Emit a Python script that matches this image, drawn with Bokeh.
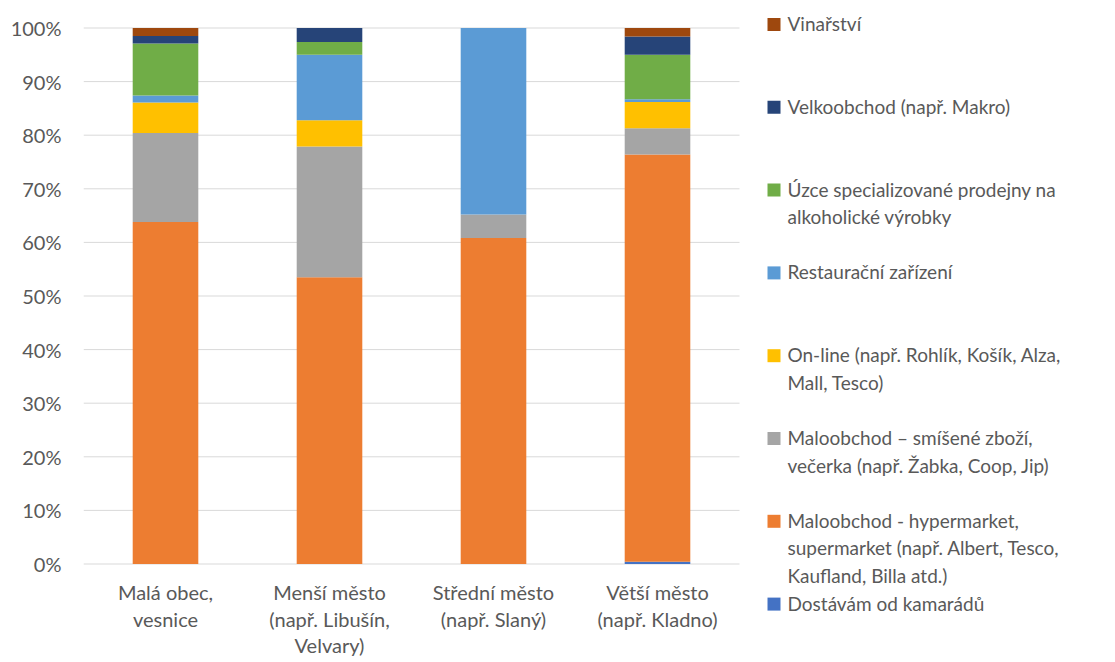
from bokeh.plotting import figure
from bokeh.models import Range1d, ColumnDataSource, NumeralTickFormatter, FixedTicker
from bokeh.core.properties import value
from bokeh.embed import file_html
from bokeh.resources import INLINE

FONT = "Lato"
TEXT_COLOR = "#595959"
GRID_COLOR = "#D9D9D9"

categories = ["Malá obec, vesnice", "Menší město (např. Libušín, Velvary)",
              "Střední město (např. Slaný)", "Větší město (např. Kladno)"]
category_lines = [["Malá obec,", "vesnice"],
                  ["Menší město", "(např. Libušín,", "Velvary)"],
                  ["Střední město", "(např. Slaný)"],
                  ["Větší město", "(např. Kladno)"]]

series_names = ["Dostávám od kamarádů",
                "Maloobchod - hypermarket, supermarket (např. Albert, Tesco, Kaufland, Billa atd.)",
                "Maloobchod – smíšené zboží, večerka (např. Žabka, Coop, Jip)",
                "On-line (např. Rohlík, Košík, Alza, Mall, Tesco)",
                "Restaurační zařízení",
                "Úzce specializované prodejny na alkoholické výrobky",
                "Velkoobchod (např. Makro)",
                "Vinařství"]
legend_lines = [["Dostávám od kamarádů"],
                ["Maloobchod - hypermarket,", "supermarket (např. Albert, Tesco,", "Kaufland, Billa atd.)"],
                ["Maloobchod – smíšené zboží,", "večerka (např. Žabka, Coop, Jip)"],
                ["On-line (např. Rohlík, Košík, Alza,", "Mall, Tesco)"],
                ["Restaurační zařízení"],
                ["Úzce specializované prodejny na", "alkoholické výrobky"],
                ["Velkoobchod (např. Makro)"],
                ["Vinařství"]]
colors = ["#4472C4", "#ED7D31", "#A5A5A5", "#FFC000", "#5B9BD5", "#70AD47", "#264478", "#9E480E"]

dostavam = [0.0, 0.0, 0.0, 0.4]
hypermarket = [63.8, 53.5, 60.8, 76.0]
maloobchod = [16.6, 24.4, 4.4, 4.9]
online = [5.7, 4.9, 0.0, 4.9]
restaurace = [1.3, 12.2, 34.8, 0.5]
uzce = [9.7, 2.4, 0.0, 8.3]
velkoobchod = [1.4, 2.6, 0.0, 3.4]
vinarstvi = [1.5, 0.0, 0.0, 1.6]

series_values = [dostavam, hypermarket, maloobchod, online, restaurace, uzce, velkoobchod, vinarstvi]

y_ticks = [0, 0.1, 0.2, 0.3, 0.4, 0.5, 0.6, 0.7, 0.8, 0.9, 1.0]

# ---- layout constants (pixels) ----
W, H = 1107, 660
FL = 83            # left edge of plotting area
ZERO_Y = 563       # page y of the 0 % line
TOP_Y = 27         # page y of the 100 % line
CAT_PX = 164       # width of one category slot
Y_PX = ZERO_Y - TOP_Y

def px_to_y(py):
    return (ZERO_Y - py) / Y_PX

def px_to_x(px):
    return (px - FL) / CAT_PX

# normalise to 100 %
n = len(categories)
totals = [sum(s[i] for s in series_values) for i in range(n)]
data = {"x": [i + 0.5 for i in range(n)], "cat": categories}
keys = []
for k, s in enumerate(series_values):
    key = "s%d" % k
    keys.append(key)
    data[key] = [v / t for v, t in zip(s, totals)]
source = ColumnDataSource(data)

p = figure(x_range=Range1d(0, px_to_x(W)), y_range=Range1d(px_to_y(H - 0.5), px_to_y(-0.5)),
           width=W, height=H, output_backend="svg", toolbar_location=None,
           x_axis_location=None,
           min_border_left=FL, min_border_right=0, min_border_top=0, min_border_bottom=0)
p.outline_line_color = None
p.grid.grid_line_color = None

# horizontal gridlines limited to the category area
p.segment(x0=[0] * len(y_ticks), x1=[n] * len(y_ticks), y0=y_ticks, y1=y_ticks,
          line_color=GRID_COLOR, line_width=1)

p.vbar_stack(keys, x="x", width=0.4, source=source, color=colors, line_color=None)

p.yaxis.ticker = FixedTicker(ticks=y_ticks)
p.yaxis.formatter = NumeralTickFormatter(format="0%")
p.yaxis.axis_line_color = None
p.yaxis.major_tick_line_color = None
p.yaxis.major_tick_out = 0
p.yaxis.minor_tick_line_color = None
p.yaxis.major_label_standoff = 22
p.yaxis.major_label_text_font = FONT
p.yaxis.major_label_text_font_size = "20px"
p.yaxis.major_label_text_color = TEXT_COLOR

# category labels (multi-line), centred under each bar
cx, cy, ct = [], [], []
for i, lines in enumerate(category_lines):
    for j, line in enumerate(lines):
        cx.append(i + 0.5)
        cy.append(px_to_y(591 + 26.5 * j))
        ct.append(line)
p.text(x=cx, y=cy, text=ct, text_font=value(FONT), text_font_size="20px",
       text_color=TEXT_COLOR, text_align="center", text_baseline="middle")

# legend (Excel style), series listed top-down in reverse order
first_slot = [21, 18, 15, 12, 9, 6, 3, 0]   # row slot of each entry's first line
SLOT_PX = 27.6
LEG_TOP = 22.5
sq_x, sq_y, sq_c = [], [], []
lx, ly, lt = [], [], []
for k in range(len(series_names)):
    y0 = LEG_TOP + SLOT_PX * first_slot[k]
    sq_x.append(px_to_x(773.5))
    sq_y.append(px_to_y(y0 + 1))
    sq_c.append(colors[k])
    for j, line in enumerate(legend_lines[k]):
        lx.append(px_to_x(787))
        ly.append(px_to_y(y0 + SLOT_PX * j))
        lt.append(line)
p.rect(x=sq_x, y=sq_y, width=13, height=13, width_units="screen", height_units="screen",
       fill_color=sq_c, line_color=None)
p.text(x=lx, y=ly, text=lt, text_font=value(FONT), text_font_size="19px",
       text_color=TEXT_COLOR, text_align="left", text_baseline="middle")

open("out.html", "w").write(file_html(p, INLINE))
